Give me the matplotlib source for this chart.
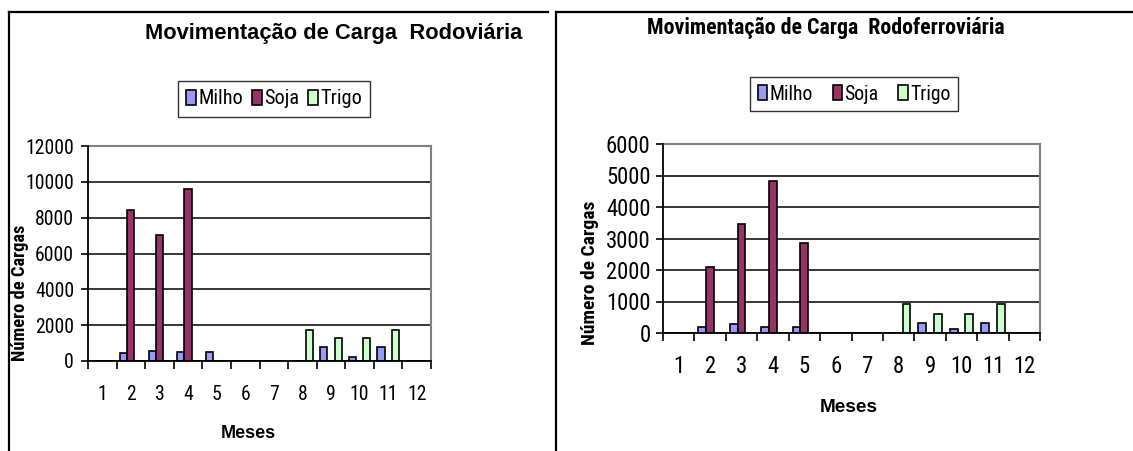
import matplotlib
matplotlib.use("Agg")
import matplotlib.pyplot as plt
import numpy as np
from matplotlib.lines import Line2D
from matplotlib import font_manager as fm
from matplotlib.font_manager import FontProperties
from matplotlib.textpath import TextPath

# ---------------- data ----------------
months = list(range(1, 13))
series_names = ["Milho", "Soja", "Trigo"]

rod_milho = [0, 470, 580, 480, 480, 0, 0, 0, 800, 240, 800, 0]
rod_soja = [0, 8430, 7030, 9580, 0, 0, 0, 0, 0, 0, 0, 0]
rod_trigo = [0, 0, 0, 0, 0, 0, 0, 1740, 1260, 1260, 1740, 0]

ferro_milho = [0, 190, 270, 200, 200, 0, 0, 0, 330, 120, 330, 0]
ferro_soja = [0, 2080, 3460, 4830, 2860, 0, 0, 0, 0, 0, 0, 0]
ferro_trigo = [0, 0, 0, 0, 0, 0, 0, 920, 590, 590, 920, 0]

rod_yticks = [0, 2000, 4000, 6000, 8000, 10000, 12000]
ferro_yticks = [0, 1000, 2000, 3000, 4000, 5000, 6000]

title_rod = "Movimentação de Carga  Rodoviária"
title_ferro = "Movimentação de Carga  Rodoferroviária"
ylabel = "Número de Cargas"
xlabel = "Meses"

colors = ["#9999FF", "#993366", "#CCFFCC"]

# ---------------- fonts ----------------
DPI = 100


def find_font(patterns):
    files = [f.fname for f in fm.fontManager.ttflist]
    for p in patterns:
        for fn in files:
            if fn.split("/")[-1].lower().startswith(p.lower()):
                return fn
    return None


cond_reg = find_font(["LiberationSansNarrow-Regular", "RobotoCondensed-Regular",
                      "ArimoNarrow", "DejaVuSansCondensed.ttf",
                      "OpenSans_Condensed-Regular", "OpenSansCondensed-Regular"])
cond_bold = find_font(["LiberationSansNarrow-Bold.", "RobotoCondensed-Bold.",
                       "DejaVuSansCondensed-Bold.", "OpenSans_Condensed-Bold.",
                       "OpenSansCondensed-Bold."])


def cond_fp(bold=False):
    path = cond_bold if bold else cond_reg
    if path:
        return FontProperties(fname=path)
    return FontProperties(family=["Liberation Sans", "DejaVu Sans"],
                          weight="bold" if bold else "normal")


def arial_fp(bold=False):
    return FontProperties(family=["Liberation Sans", "DejaVu Sans"],
                          weight="bold" if bold else "normal")


def fitted(fp, sample, target_px):
    """Return a copy of fp sized so that sample's ink width is target_px."""
    w = TextPath((0, 0), sample, size=10, prop=fp).get_extents().width
    w_px = w * DPI / 72.0
    size = 10.0 * target_px / w_px
    f = fp.copy()
    f.set_size(size)
    return f


# ---------------- figure ----------------
W, H = 1133, 451
fig = plt.figure(figsize=(W / DPI, H / DPI), dpi=DPI)
fig.patch.set_facecolor("white")


def fx(x):
    return x / W


def fy(y):
    return 1 - y / H


def make_panel(rect_px, data, yticks, ytick_sample, ytick_w, ytick_pad, xtick_pad,
               title, title_xy, title_fp, leg_xy, leg_fp, leg_colsp,
               ylab_xy, ylab_fp, xlab_xy, xlab_fp):
    x0, y0, x1, y1 = rect_px
    ax = fig.add_axes([fx(x0), fy(y1), (x1 - x0) / W, (y1 - y0) / H])
    tick_fp = fitted(cond_fp(), ytick_sample, ytick_w)
    x = np.array(months)
    bw = 0.25
    handles = []
    for i, (vals, c, name) in enumerate(zip(data, colors, series_names)):
        b = ax.bar(x + (i - 1) * bw, vals, width=bw, color=c, edgecolor="black",
                   linewidth=1.2, label=name, zorder=3)
        handles.append(b)
    ax.set_xlim(0.5, 12.5)
    ax.set_ylim(yticks[0], yticks[-1])
    ax.set_yticks(yticks)
    ax.set_yticklabels([str(t) for t in yticks], fontproperties=tick_fp)
    ax.set_xticks(x)
    ax.set_xticklabels([str(m) for m in months], fontproperties=tick_fp)
    ax.set_xticks(np.arange(0.5, 13.0, 1.0), minor=True)
    ax.tick_params(axis="x", which="major", length=0, pad=xtick_pad)
    ax.tick_params(axis="x", which="minor", length=6, width=1.2, direction="out",
                   color="black")
    ax.tick_params(axis="y", length=5, width=1.2, direction="out", pad=ytick_pad)
    ax.grid(axis="y", color="black", linewidth=1.1, zorder=1)
    ax.set_axisbelow(True)
    for s in ["top", "right"]:
        ax.spines[s].set_color("#808080")
        ax.spines[s].set_linewidth(1.5)
    for s in ["left", "bottom"]:
        ax.spines[s].set_color("black")
        ax.spines[s].set_linewidth(1.3)
        ax.spines[s].set_zorder(4)

    fig.text(fx(title_xy[0]), fy(title_xy[1]), title, ha="center", va="center",
             fontproperties=title_fp)
    fig.text(fx(ylab_xy[0]), fy(ylab_xy[1]), ylabel, rotation=90, ha="center",
             va="center", fontproperties=ylab_fp)
    fig.text(fx(xlab_xy[0]), fy(xlab_xy[1]), xlabel, ha="center", va="center",
             fontproperties=xlab_fp)

    leg = ax.legend(handles=handles, labels=series_names, loc="center",
                    bbox_to_anchor=(fx(leg_xy[0]), fy(leg_xy[1])),
                    bbox_transform=fig.transFigure, ncol=3, frameon=True,
                    fancybox=False, shadow=False, handlelength=0.5,
                    handleheight=0.75, handletextpad=0.1, columnspacing=leg_colsp,
                    borderpad=0.4, prop=leg_fp)
    leg.get_frame().set_edgecolor("black")
    leg.get_frame().set_linewidth(1.0)
    return ax


make_panel((88, 146, 431, 361), [rod_milho, rod_soja, rod_trigo], rod_yticks,
           "12000", 46, 5, 17,
           title_rod, (334, 33), fitted(arial_fp(True), title_rod, 375),
           (274, 99), fitted(cond_fp(), "Milho", 42), 0.45,
           (20, 293), fitted(cond_fp(True), ylabel, 135),
           (248, 433), fitted(arial_fp(True), xlabel, 53))

make_panel((663, 144, 1040, 333), [ferro_milho, ferro_soja, ferro_trigo],
           ferro_yticks, "6000", 42, 4, 16,
           title_ferro, (826, 28), fitted(cond_fp(True), title_ferro, 357),
           (854, 94), fitted(cond_fp(), "Milho", 41), 1.0,
           (590, 273), fitted(cond_fp(True), ylabel, 142),
           (849, 408), fitted(arial_fp(True), xlabel, 56))

# panel frame lines
lw = 1.6
for xs, ys in [((9, 548), (12, 12)), ((9, 9), (12, 451)),
               ((556, 1133), (12, 12)), ((556, 556), (12, 451))]:
    fig.add_artist(Line2D([fx(xs[0]), fx(xs[1])], [fy(ys[0]), fy(ys[1])],
                          color="black", lw=lw, transform=fig.transFigure))

fig.savefig("out.png", dpi=DPI, facecolor="white")
